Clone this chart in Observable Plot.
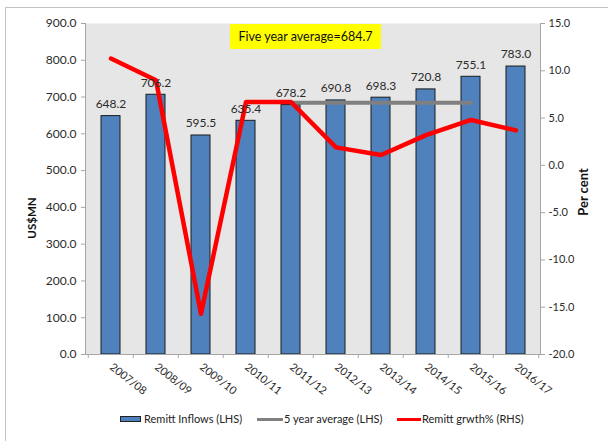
<!DOCTYPE html>
<html><head><meta charset="utf-8">
<script src="https://cdn.jsdelivr.net/npm/d3@7"></script>
<script src="https://cdn.jsdelivr.net/npm/@observablehq/plot@0.6"></script>
<style>
body{margin:0;background:#fff;font-family:Lato,"Liberation Sans",sans-serif;}
#wrap{position:relative;width:608px;height:441px;overflow:hidden;}
#chart{position:absolute;left:0;top:0;}
#frame{position:absolute;left:5px;top:7px;width:700px;height:500px;border-top:1px solid #c4c4c4;border-left:1px solid #c4c4c4;pointer-events:none;}
#title{position:absolute;left:230px;top:24px;width:151px;height:25px;background:#ffff00;font-size:12.5px;line-height:25px;text-align:center;color:#111;}
.lt{position:absolute;top:413px;font-size:11px;line-height:12px;color:#222;white-space:nowrap;}
.sw{position:absolute;box-sizing:border-box;}
</style></head>
<body>
<div id="wrap">
  <div id="chart"></div>
  <div id="frame"></div>
  <div id="title">Five year average=684.7</div>
  <div class="sw" style="left:120px;top:416px;width:21px;height:6px;background:#4f81bd;border:1px solid #222;"></div>
  <div class="lt" style="left:144px;">Remitt Inflows (LHS)</div>
  <div class="sw" style="left:257px;top:418px;width:26px;height:3px;background:#808080;"></div>
  <div class="lt" style="left:284px;">5 year average (LHS)</div>
  <div class="sw" style="left:397px;top:418px;width:24px;height:3px;background:#ff0000;"></div>
  <div class="lt" style="left:422px;">Remitt grwth% (RHS)</div>
</div>
<script>
const years = ["2007/08","2008/09","2009/10","2010/11","2011/12","2012/13","2013/14","2014/15","2015/16","2016/17"];
const inflows = [648.2,706.2,595.5,635.4,678.2,690.8,698.3,720.8,755.1,783.0];
const growth = [11.3,9.0,-15.7,6.7,6.7,1.9,1.1,3.2,4.8,3.7];
const avgYears = ["2011/12","2012/13","2013/14","2014/15","2015/16"];
const avgValue = 684.7;
const leftTicks = [0,100,200,300,400,500,600,700,800,900];
const rightTicks = [-20,-15,-10,-5,0,5,10,15];

const yMax = 900, pMin = -20, pMax = 15;
const toY = p => (p - pMin) * yMax / (pMax - pMin);
const fromY = v => v * (pMax - pMin) / yMax + pMin;

const rows = years.map((year, i) => ({year, inflow: inflows[i], growth: growth[i]}));
const avgRows = avgYears.map(year => ({year, avg: avgValue}));
const axisColor = "#a6a6a6";
const textColor = "#2b2b2b";

const chart = Plot.plot({
  width: 608, height: 405,
  marginTop: 23, marginBottom: 51, marginLeft: 85, marginRight: 68,
  style: {background: "transparent", fontFamily: "Lato, 'Liberation Sans', sans-serif", color: textColor},
  x: {domain: years, type: "band", paddingInner: 0.58, paddingOuter: 0.29, axis: null},
  y: {domain: [0, yMax], axis: null},
  marks: [
    Plot.frame({fill: "#e6e6e6"}),
    Plot.barY(rows, {x: "year", y: "inflow", fill: "#4f81bd", stroke: "#1a1a1a", strokeWidth: 1}),
    Plot.line(avgRows, {x: "year", y: "avg", stroke: "#808080", strokeWidth: 4}),
    Plot.line(rows, {x: "year", y: d => toY(d.growth), stroke: "#ff0000", strokeWidth: 4.5}),
    Plot.text(rows, {x: "year", y: "inflow", text: d => d.inflow.toFixed(1), dy: -12, fontSize: 12, fill: textColor}),
    Plot.frame({anchor: "left", stroke: axisColor}),
    Plot.frame({anchor: "right", stroke: axisColor}),
    Plot.frame({anchor: "bottom", stroke: axisColor}),
    Plot.axisY(leftTicks, {anchor: "left", tickSize: 4, tickPadding: 5, stroke: axisColor, fill: textColor, tickFormat: d => d.toFixed(1), fontSize: 12, label: null}),
    Plot.axisY(rightTicks.map(toY), {anchor: "right", tickSize: 4, tickPadding: 4, stroke: axisColor, fill: textColor, tickFormat: v => fromY(v).toFixed(1), fontSize: 11, label: null}),
    Plot.axisX(years, {anchor: "bottom", tickSize: 4, dx: -22.75, stroke: axisColor, tickFormat: () => "", label: null}),
    Plot.axisX([years[years.length - 1]], {anchor: "bottom", tickSize: 4, dx: 22.75, stroke: axisColor, tickFormat: () => "", label: null}),
    Plot.text(years, {x: d => d, frameAnchor: "bottom", dy: 14, dx: -2, rotate: 38, textAnchor: "start", fontSize: 11, fill: textColor}),
    Plot.text(["US$MN"], {frameAnchor: "left", dx: -53, dy: 29, rotate: -90, textAnchor: "middle", fontWeight: "bold", fontSize: 11.5, fill: "#111"}),
    Plot.text(["Per cent"], {frameAnchor: "right", dx: 43, dy: 3, rotate: -90, textAnchor: "middle", fontWeight: "bold", fontSize: 13, fill: "#111"})
  ]
});
document.getElementById("chart").appendChild(chart);
</script>
</body></html>
